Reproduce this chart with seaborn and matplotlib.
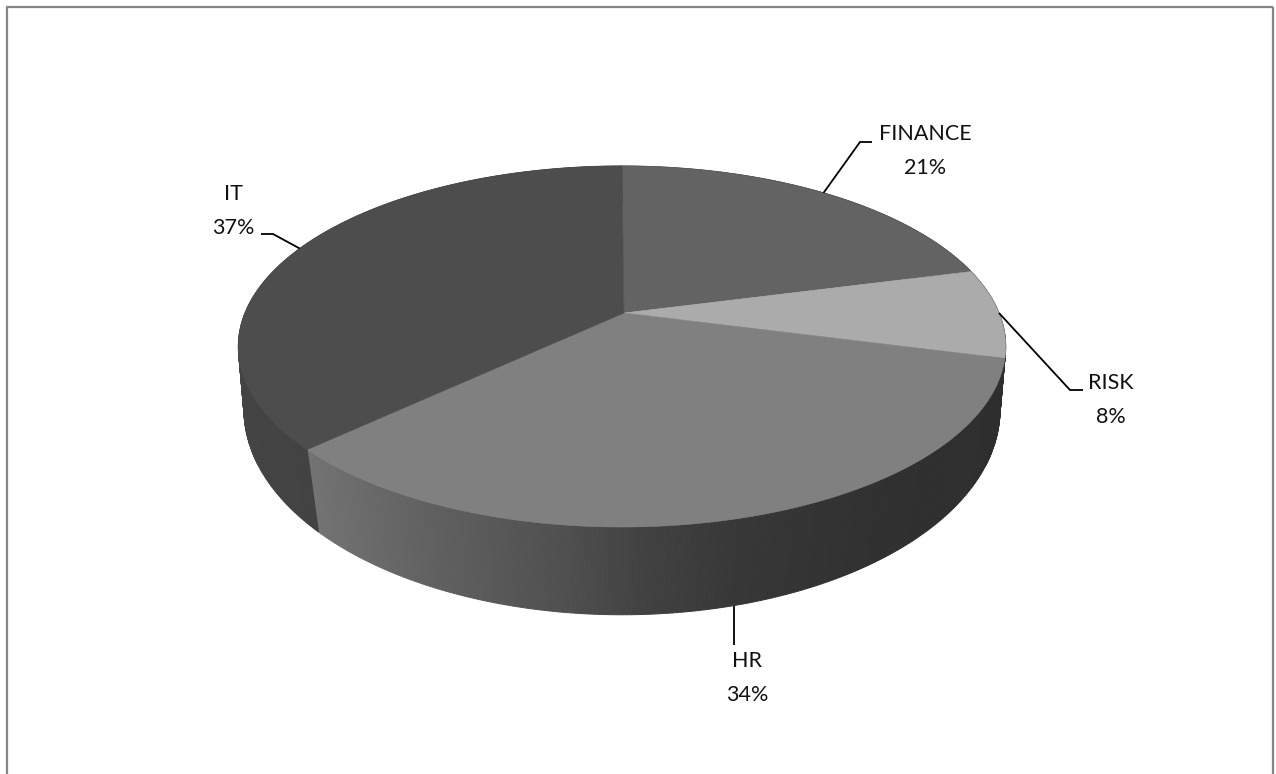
import numpy as np
import matplotlib
matplotlib.use("Agg")
import matplotlib.pyplot as plt
import seaborn as sns

# ---- data ----
categories = ["FINANCE", "RISK", "HR", "IT"]
shares = [21, 8, 34, 37]

# ---- style ----
top_colors = ["#636363", "#ababab", "#808080", "#4d4d4d"]
side_anchor_x = [240, 317, 420, 560, 640, 740, 880, 1010]
side_anchor_hr = [0x75, 0x72, 0x62, 0x50, 0x42, 0x37, 0x30, 0x2e]

W, H = 1276, 774
sns.set_theme(style="white")
plt.rcParams["font.family"] = ["Lato", "DejaVu Sans"]
fig = plt.figure(figsize=(W / 100, H / 100), dpi=100, facecolor="white")
ax = fig.add_axes([0, 0, 1, 1])
ax.set_xlim(0, W)
ax.set_ylim(H, 0)
ax.axis("off")

CX = 622.0
TOP = dict(a=377.0, b=174.3, y0=313.0, k=0.1856)
BOT = dict(a=373.7, b=200.4, y0=379.0, k=0.15)


def project(theta_deg, p):
    t = np.radians(theta_deg)
    u, v = np.sin(t), np.cos(t)
    d = 1 + p["k"] * v
    return CX + p["a"] * u / d, p["y0"] - p["b"] * v / d


cum = np.concatenate([[0], np.cumsum(shares)]) / np.sum(shares) * 360.0

# side wall, as thin strips
for i, (s, e) in enumerate(zip(cum[:-1], cum[1:])):
    th = np.arange(s, e + 0.6, 0.6)
    for j in range(len(th) - 1):
        a, b = th[j], min(th[j + 1], e)
        x1, y1 = project(np.array([a, b]), TOP)
        x2, y2 = project(np.array([b, a]), BOT)
        xm = 0.5 * (x1.mean() + x2.mean())
        if categories[i] == "IT":
            g = np.interp(xm, [240, 317], [0x44, 0x42])
        else:
            g = np.interp(xm, side_anchor_x, side_anchor_hr)
        col = (g / 255,) * 3
        ax.fill(np.r_[x1, x2], np.r_[y1, y2], color=col, lw=0.7, zorder=2)

# top face
apex = (CX + 2, TOP["y0"])
for i, (s, e) in enumerate(zip(cum[:-1], cum[1:])):
    th = np.linspace(s, e, 200)
    x, y = project(th, TOP)
    ax.fill(np.r_[apex[0], x], np.r_[apex[1], y], color=top_colors[i], lw=0.4, zorder=3)

# leader lines start on the slice mid-angle
mid = 0.5 * (cum[:-1] + cum[1:])
sx, sy = {}, {}
for c, m in zip(categories, mid):
    sx[c], sy[c] = project(m, BOT if c == "HR" else TOP)
sx["HR"] += 3

leaders = {
    "FINANCE": ([860, 872], [142, 142]),
    "RISK": ([1070, 1083], [390, 390]),
    "HR": ([sx["HR"]], [645]),
    "IT": ([273, 261], [234, 234]),
}
for c in categories:
    xs, ys = leaders[c]
    ax.plot([sx[c], *xs], [sy[c], *ys], color="black", lw=1.3, zorder=4,
            solid_joinstyle="miter", solid_capstyle="butt")

label_pos = {
    "FINANCE": (925, 151),
    "RISK": (1111, 400),
    "HR": (747, 678),
    "IT": (233, 211),
}
for c, sh in zip(categories, shares):
    x, y = label_pos[c]
    ax.text(x, y, f"{c}\n{sh}%", ha="center", va="center", fontsize=15.5,
            color="#111111", linespacing=1.9, zorder=5)

# chart-area frame: open at the bottom
frame = "#868686"
ax.plot([6.5, 6.5], [H, 6.5], color=frame, lw=1.6, solid_capstyle="butt")
ax.plot([6, 1273], [6.5, 6.5], color=frame, lw=1.6, solid_capstyle="butt")
ax.plot([1272.5, 1272.5], [6.5, H], color=frame, lw=1.6, solid_capstyle="butt")

fig.savefig("out.png", dpi=100, facecolor="white")
